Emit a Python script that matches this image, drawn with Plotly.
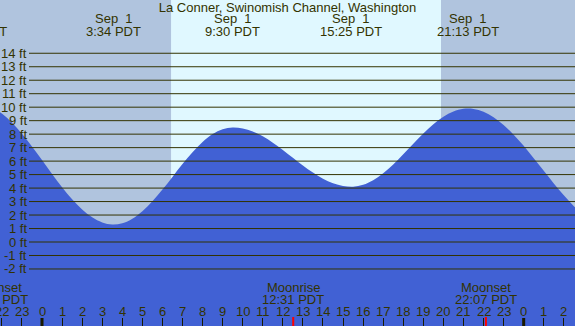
import plotly.graph_objects as go

# ---------------- data ----------------
title_text = "La Conner, Swinomish Channel, Washington"

# hours since Sep 1 00:00 PDT, tide height in ft
tide_hours = [-2.5, -2.0, -1.5, -1.0, -0.5, 0.0, 0.5, 1.0, 1.5, 2.0,
              2.5, 3.0, 3.5, 4.0, 4.5, 5.0, 5.5, 6.0, 6.5, 7.0,
              7.5, 8.0, 8.5, 9.0, 9.5, 10.0, 10.5, 11.0, 11.5, 12.0,
              12.5, 13.0, 13.5, 14.0, 14.5, 15.0, 15.5, 16.0, 16.5, 17.0,
              17.5, 18.0, 18.5, 19.0, 19.5, 20.0, 20.5, 21.0, 21.5, 22.0,
              22.5, 23.0, 23.5, 24.0, 24.5, 25.0, 25.5, 26.0, 26.5, 27.0]
tide_ft = [10.00, 9.53, 8.86, 8.03, 7.09, 6.08, 5.05, 4.07, 3.17, 2.41,
           1.83, 1.45, 1.30, 1.39, 1.73, 2.29, 3.03, 3.89, 4.83, 5.78,
           6.66, 7.42, 8.01, 8.37, 8.50, 8.42, 8.20, 7.84, 7.37, 6.83,
           6.25, 5.68, 5.15, 4.70, 4.36, 4.16, 4.10, 4.24, 4.58, 5.10,
           5.75, 6.50, 7.28, 8.04, 8.73, 9.29, 9.68, 9.88, 9.87, 9.66,
           9.25, 8.68, 7.96, 7.14, 6.22, 5.28, 4.34, 3.46, 2.66, 1.99]

extreme_hours = [-3.30, 3.567, 9.50, 15.417, 21.217]
extreme_dates = ["Aug\u00a0\u00a031", "Sep\u00a0\u00a01", "Sep\u00a0\u00a01",
                 "Sep\u00a0\u00a01", "Sep\u00a0\u00a01"]
extreme_times = ["20:42 PDT", "3:34 PDT", "9:30 PDT", "15:25 PDT", "21:13 PDT"]

sunrise_hour = 6.43   # 6:26 PDT
sunset_hour = 19.88   # 19:53 PDT

moon_hours = [-2.25, 12.517, 22.117]
moon_events = ["Moonset", "Moonrise", "Moonset"]
moon_times = ["21:45 PDT", "12:31 PDT", "22:07 PDT"]

hour_ticks = list(range(-2, 27))
hour_labels = [str(h % 24) for h in hour_ticks]
midnight_hours = [0, 24]

level_ticks = list(range(-2, 15))
level_labels = [f"{v} ft" for v in level_ticks]

# ---------------- styling / layout ----------------
W, H = 575, 326
X_RANGE = [-2.093, 26.557]
Y_RANGE = [-6.23, 17.95]

NIGHT = "#B0C4DE"
DAY = "#E0F8FF"
TIDE = "#4161D4"
INK = "#333300"
FONT = dict(family="Liberation Sans, Arial, sans-serif", size=13, color=INK)


def xpaper(t):
    return (t - X_RANGE[0]) / (X_RANGE[1] - X_RANGE[0])


def ypix(py):
    return 1 - py / H


fig = go.Figure()
fig.add_trace(go.Scatter(x=tide_hours, y=[Y_RANGE[0] - 5] * len(tide_hours),
                         mode="lines", line=dict(width=0), hoverinfo="skip",
                         showlegend=False))
fig.add_trace(go.Scatter(x=tide_hours, y=tide_ft, mode="lines",
                         line=dict(width=0, shape="spline", color=TIDE),
                         fill="tonexty", fillcolor=TIDE, showlegend=False))

shapes = []
shapes.append(dict(type="rect", xref="x", yref="paper", x0=sunrise_hour,
                   x1=sunset_hour, y0=0, y1=1, fillcolor=DAY,
                   line=dict(width=0), layer="below"))
for v in level_ticks:
    shapes.append(dict(type="line", xref="paper", yref="y", x0=29 / W, x1=1,
                       y0=v, y1=v, line=dict(color=INK, width=1),
                       layer="above"))
for t in midnight_hours:
    shapes.append(dict(type="line", xref="x", yref="paper", x0=t, x1=t,
                       y0=0, y1=8 / H, line=dict(color="#1a1a00", width=3),
                       layer="above"))
for t in moon_hours:
    if X_RANGE[0] <= t <= X_RANGE[1]:
        shapes.append(dict(type="line", xref="x", yref="paper", x0=t, x1=t,
                           y0=0, y1=9 / H, line=dict(color="#FF0000", width=2),
                           layer="above"))

ann = []
for v, lab in zip(level_ticks, level_labels):
    ann.append(dict(xref="paper", yref="y", x=29 / W, y=v, text=lab,
                    xanchor="right", yanchor="middle", showarrow=False,
                    font=FONT))
for t, d, tm in zip(extreme_hours, extreme_dates, extreme_times):
    ann.append(dict(xref="paper", yref="paper", x=xpaper(t), y=ypix(18.7),
                    text=d, xanchor="center", yanchor="middle",
                    showarrow=False, font=FONT))
    ann.append(dict(xref="paper", yref="paper", x=xpaper(t), y=ypix(31.3),
                    text=tm, xanchor="center", yanchor="middle",
                    showarrow=False, font=FONT))
for t, ev, tm in zip(moon_hours, moon_events, moon_times):
    ann.append(dict(xref="paper", yref="paper", x=xpaper(t), y=ypix(287),
                    text=ev, xanchor="center", yanchor="middle",
                    showarrow=False, font=FONT))
    ann.append(dict(xref="paper", yref="paper", x=xpaper(t), y=ypix(299.5),
                    text=tm, xanchor="center", yanchor="middle",
                    showarrow=False, font=FONT))
for t, lab in zip(hour_ticks, hour_labels):
    ann.append(dict(xref="x", yref="paper", x=t, y=ypix(311.3), text=lab,
                    xanchor="center", yanchor="middle", showarrow=False,
                    font=FONT))

fig.update_layout(
    width=W, height=H, margin=dict(l=0, r=0, t=0, b=0, pad=0),
    paper_bgcolor=NIGHT, plot_bgcolor=NIGHT,
    title=dict(text=title_text, x=0.5, xanchor="center", xref="paper",
               y=ypix(7.5), yref="container", yanchor="middle", font=FONT),
    showlegend=False, shapes=shapes, annotations=ann, font=FONT,
    xaxis=dict(range=X_RANGE, showgrid=False, zeroline=False, showline=False,
               tickmode="array", tickvals=hour_ticks, ticks="inside",
               ticklen=8, tickwidth=1, tickcolor="#1a1a00",
               showticklabels=False, fixedrange=True),
    yaxis=dict(range=Y_RANGE, visible=False, fixedrange=True),
)

fig.write_html("out.html", config={"displayModeBar": False},
               post_script="document.body.style.margin='0';"
                           "document.body.style.overflow='hidden';")
